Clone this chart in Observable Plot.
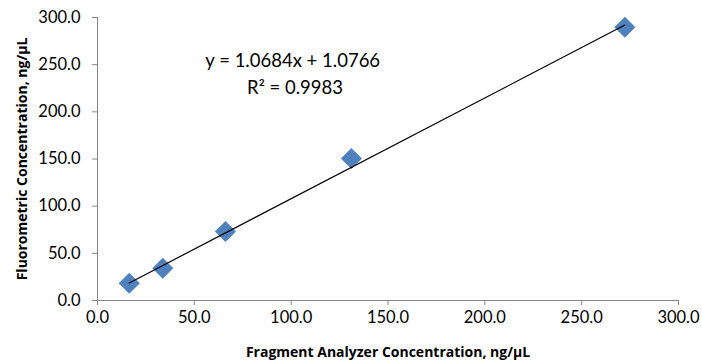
<!DOCTYPE html>
<html>
<head>
<meta charset="utf-8">
<script src="https://cdn.jsdelivr.net/npm/d3@7"></script>
<script src="https://cdn.jsdelivr.net/npm/@observablehq/plot@0.6"></script>
<style>
  html, body { margin: 0; padding: 0; background: #fff; }
  #chart svg { display: block; }
</style>
</head>
<body>
<div id="chart"></div>
<script>
// Data
const fragmentAnalyzer = [16.4, 33.7, 66.1, 131.1, 272.3];
const fluorometric = [18.3, 34.2, 73.1, 150.5, 289.7];
const ticks = [0, 50, 100, 150, 200, 250, 300];
const slope = 1.0684;
const intercept = 1.0766;
const equationLabel = "y = 1.0684x + 1.0766";
const r2Label = "R² = 0.9983";
const xTitle = "Fragment Analyzer Concentration, ng/µL";
const yTitle = "Fluorometric Concentration, ng/µL";

const points = fragmentAnalyzer.map((x, i) => ({x, y: fluorometric[i]}));
const xMin = d3.min(fragmentAnalyzer), xMax = d3.max(fragmentAnalyzer);
const trend = [xMin, xMax].map(x => ({x, y: slope * x + intercept}));

const font = "Lato, 'Open Sans', sans-serif";
const titleFont = "'Open Sans', Lato, sans-serif";
const axisColor = "#868686";

const chart = Plot.plot({
  width: 702,
  height: 360,
  marginLeft: 97,
  marginRight: 24,
  marginTop: 17,
  marginBottom: 60,
  style: {fontFamily: font, fontSize: "16px", color: "#000", background: "#fff"},
  x: {domain: [0, 300], ticks, tickFormat: d3.format(".1f")},
  y: {domain: [0, 300], ticks, tickFormat: d3.format(".1f")},
  marks: [
    Plot.axisX({ticks, tickFormat: d3.format(".1f"), tickSize: 5, tickPadding: 6, stroke: axisColor, strokeOpacity: 1, fill: "#000", fontSize: 16.5, label: null}),
    Plot.axisY({ticks, tickFormat: d3.format(".1f"), tickSize: 5, tickPadding: 12, stroke: axisColor, strokeOpacity: 1, fill: "#000", fontSize: 16.5, label: null}),
    Plot.ruleY([0], {stroke: axisColor}),
    Plot.ruleX([0], {stroke: axisColor}),
    Plot.dot(points, {x: "x", y: "y", symbol: "diamond2", r: 9.5, fill: "#4F81BD", stroke: "none"}),
    Plot.line(trend, {x: "x", y: "y", stroke: "#000", strokeWidth: 1.2}),
    Plot.text([equationLabel], {x: 100.8, y: 254, fontSize: 18.5, fill: "#000", textAnchor: "middle"}),
    Plot.text([r2Label], {x: 102, y: 225, fontSize: 18.5, fill: "#000", textAnchor: "middle"}),
    Plot.text([xTitle], {frameAnchor: "bottom", dy: 52, textAnchor: "middle", lineAnchor: "middle", fontFamily: titleFont, fontWeight: "bold", fontSize: 14, fill: "#000"}),
    Plot.text([yTitle], {frameAnchor: "left", rotate: -90, dx: -75, dy: 0, textAnchor: "middle", lineAnchor: "middle", fontFamily: titleFont, fontWeight: "bold", fontSize: 14, fill: "#000"})
  ]
});
document.getElementById("chart").appendChild(chart);
</script>
</body>
</html>
